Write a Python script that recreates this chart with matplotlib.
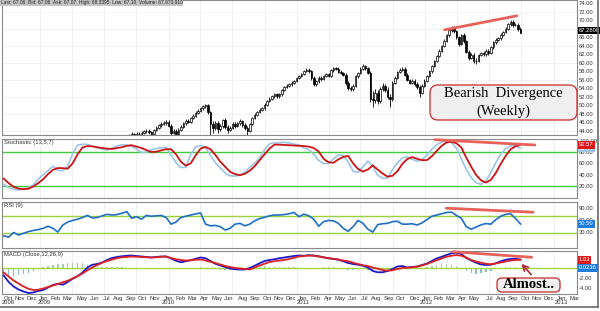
import matplotlib
matplotlib.use('Agg')
import matplotlib.pyplot as plt
import matplotlib.dates as mdates
from matplotlib.patches import FancyBboxPatch
from matplotlib.lines import Line2D
import numpy as np
import pandas as pd

# weekly candles (earlier weeks sit below 44 and are not visible)
candle_start = '2009-09-04'
opens = [42.4, 42.0, 42.8, 43.3, 42.9, 43.4, 43.2, 43.6, 43.9, 44.1,
         43.7, 43.4, 44.2, 44.8, 45.3, 45.7, 45.9, 46.2, 45.2, 43.6,
         43.9, 43.4, 44.3, 45.0, 45.8, 46.4, 46.2, 47.0, 47.6, 48.3,
         48.7, 49.3, 49.8, 50.1, 48.4, 45.6, 44.6, 45.8, 44.4, 45.2,
         46.5, 45.0, 44.2, 44.8, 45.6, 45.2, 45.9, 46.3, 45.4, 44.7,
         44.0, 45.6, 47.0, 47.8, 48.5, 48.9, 49.3, 50.2, 51.0, 51.6,
         52.1, 52.7, 52.2, 52.6, 53.6, 54.3, 54.6, 54.9, 55.3, 55.7,
         56.4, 56.9, 57.4, 58.1, 58.4, 58.0, 56.4, 55.0, 55.6, 56.5,
         56.2, 56.9, 57.3, 57.0, 58.2, 58.8, 58.6, 57.9, 57.6, 57.2,
         55.3, 54.0, 53.8, 54.6, 56.8, 57.6, 58.6, 59.2, 58.8, 57.7,
         51.6, 51.2, 53.0, 51.0, 53.8, 54.6, 53.6, 52.0, 51.4, 55.2,
         56.5, 57.8, 58.3, 58.6, 57.2, 56.0, 55.3, 55.8, 55.0, 54.3,
         53.0, 54.6, 55.8, 56.9, 58.0, 59.2, 60.4, 61.6, 62.8, 63.9,
         65.2, 66.4, 67.6, 68.1, 67.4, 66.0, 64.4, 66.5, 65.0, 62.6,
         61.2, 61.9, 60.5, 60.4, 61.8, 62.3, 62.0, 62.8, 62.3, 63.6,
         64.8, 65.4, 65.7, 66.6, 67.2, 68.0, 69.0, 69.6, 68.8, 68.9,
         67.9]
highs = [42.8, 43.2, 43.7, 43.6, 43.8, 43.8, 44.0, 44.3, 44.5, 44.4,
         44.1, 44.5, 45.2, 45.7, 46.0, 46.3, 46.6, 46.6, 45.6, 44.5,
         44.4, 44.6, 45.3, 46.1, 46.8, 46.8, 47.3, 47.9, 48.6, 49.1,
         49.6, 50.1, 50.4, 50.4, 48.7, 46.4, 46.3, 46.3, 45.7, 46.9,
         47.0, 45.4, 45.2, 46.0, 46.0, 46.2, 46.7, 46.6, 45.8, 45.1,
         45.9, 47.3, 48.1, 48.8, 49.3, 49.7, 50.5, 51.3, 51.9, 52.4,
         53.0, 53.0, 52.9, 53.9, 54.6, 54.9, 55.2, 55.6, 56.0, 56.7,
         57.2, 57.7, 58.4, 58.8, 58.7, 58.3, 56.8, 55.9, 56.8, 56.9,
         57.2, 57.6, 57.6, 58.5, 59.1, 59.1, 58.9, 58.2, 57.9, 57.5,
         55.6, 54.6, 55.0, 57.1, 57.9, 58.9, 59.6, 59.5, 59.1, 58.0,
         53.4, 53.8, 53.6, 54.3, 55.2, 55.0, 54.2, 52.6, 55.6, 56.8,
         58.1, 58.7, 59.0, 58.9, 57.5, 56.3, 56.2, 56.2, 55.4, 54.7,
         54.9, 56.1, 57.2, 58.3, 59.5, 60.7, 61.9, 63.1, 64.2, 65.5,
         66.7, 67.9, 68.6, 68.5, 67.7, 66.3, 66.8, 67.0, 65.3, 62.9,
         62.3, 62.2, 61.0, 62.1, 62.6, 62.8, 63.2, 63.1, 63.9, 65.1,
         65.7, 66.0, 66.9, 67.5, 68.3, 69.3, 70.0, 69.9, 69.3, 69.2,
         68.34]
lows = [41.6, 41.6, 42.4, 42.5, 42.5, 42.8, 42.8, 43.2, 43.5, 43.3,
        42.9, 43.1, 43.9, 44.4, 45.0, 45.3, 45.5, 44.9, 43.1, 43.2,
        42.9, 43.1, 44.0, 44.7, 45.5, 45.8, 45.9, 46.7, 47.3, 48.0,
        48.4, 49.0, 49.5, 48.0, 43.0, 43.6, 44.2, 43.6, 43.9, 44.8,
        44.5, 43.6, 43.9, 44.4, 44.8, 44.9, 45.5, 45.0, 44.2, 43.0,
        43.7, 45.3, 46.7, 47.5, 48.2, 48.6, 49.0, 49.9, 50.7, 51.3,
        51.8, 51.8, 51.8, 52.3, 53.3, 54.0, 54.3, 54.6, 55.0, 55.4,
        56.1, 56.6, 57.1, 57.8, 57.6, 56.0, 54.6, 54.6, 55.3, 55.8,
        55.9, 56.6, 56.7, 56.7, 57.9, 58.3, 57.6, 57.3, 56.8, 54.8,
        53.5, 53.3, 53.4, 54.3, 56.5, 57.3, 58.3, 58.4, 57.3, 50.8,
        49.6, 50.6, 50.3, 50.6, 53.3, 53.2, 51.5, 49.6, 51.1, 54.9,
        56.2, 57.5, 58.0, 56.8, 55.6, 54.9, 55.0, 54.6, 53.9, 52.0,
        52.6, 54.3, 55.5, 56.6, 57.7, 58.9, 60.1, 61.3, 62.5, 63.6,
        64.9, 66.1, 67.3, 67.0, 65.6, 63.9, 64.1, 64.7, 62.2, 60.6,
        60.8, 60.0, 59.8, 60.1, 61.5, 61.6, 61.6, 61.9, 62.0, 63.3,
        64.5, 65.1, 65.4, 66.3, 66.9, 67.7, 68.7, 68.4, 68.5, 67.5,
        66.9]
closes = [42.0, 42.8, 43.3, 42.9, 43.4, 43.2, 43.6, 43.9, 44.1, 43.7,
          43.4, 44.2, 44.8, 45.3, 45.7, 45.9, 46.2, 45.2, 43.6, 43.9,
          43.4, 44.3, 45.0, 45.8, 46.4, 46.2, 47.0, 47.6, 48.3, 48.7,
          49.3, 49.8, 50.1, 48.4, 45.6, 44.6, 45.8, 44.4, 45.2, 46.5,
          45.0, 44.2, 44.8, 45.6, 45.2, 45.9, 46.3, 45.4, 44.7, 44.0,
          45.6, 47.0, 47.8, 48.5, 48.9, 49.3, 50.2, 51.0, 51.6, 52.1,
          52.7, 52.2, 52.6, 53.6, 54.3, 54.6, 54.9, 55.3, 55.7, 56.4,
          56.9, 57.4, 58.1, 58.4, 58.0, 56.4, 55.0, 55.6, 56.5, 56.2,
          56.9, 57.3, 57.0, 58.2, 58.8, 58.6, 57.9, 57.6, 57.2, 55.3,
          54.0, 53.8, 54.6, 56.8, 57.6, 58.6, 59.2, 58.8, 57.7, 51.6,
          51.2, 53.0, 51.0, 53.8, 54.6, 53.6, 52.0, 51.4, 55.2, 56.5,
          57.8, 58.3, 58.6, 57.2, 56.0, 55.3, 55.8, 55.0, 54.3, 53.0,
          54.6, 55.8, 56.9, 58.0, 59.2, 60.4, 61.6, 62.8, 63.9, 65.2,
          66.4, 67.6, 68.1, 67.4, 66.0, 64.4, 66.5, 65.0, 62.6, 61.2,
          61.9, 60.5, 60.4, 61.8, 62.3, 62.0, 62.8, 62.3, 63.6, 64.8,
          65.4, 65.7, 66.6, 67.2, 68.0, 69.0, 69.6, 68.8, 68.9, 67.9,
          67.06]

# indicators, read every two weeks
ind_start = '2008-09-19'
stoch_k = [23, 17.5, 14.5, 13, 14, 17, 22, 32, 40, 47,
           55, 48, 47, 55, 77, 92, 93.5, 93.5, 90.5, 87.5,
           85.5, 83.6, 87, 90.5, 93, 92, 90, 85, 79, 80,
           84, 86, 87.7, 88, 75, 61, 52.5, 53, 76, 89,
           91.5, 88, 74, 61, 52, 43, 38, 37.5, 39, 44.5,
           53, 60, 70, 84, 94.5, 96, 96.5, 97, 96, 94,
           92.5, 87, 84, 76, 65, 59.5, 60, 68, 74.7, 74,
           62, 46, 44, 54, 64, 55, 39, 33.5, 34.5, 49,
           61, 69.5, 71.5, 67, 64, 66.5, 74.5, 85, 93, 97.5,
           99.3, 96.5, 87, 68, 49, 35, 26, 22.6, 29, 44,
           61, 76, 86, 91, 91.5, 86.4]
stoch_d = [33, 25, 18.5, 15.5, 14.5, 15, 19, 25, 32, 41,
           48.5, 51.7, 51.5, 50.5, 60, 76, 88, 90.5, 90, 88.5,
           87, 86, 85.5, 87, 88.5, 91, 92, 89.5, 87, 83.5,
           80, 80.5, 83, 85, 85, 76, 63, 56, 60, 74,
           86, 89, 85, 75, 63, 54, 45, 41, 39, 41.5,
           47, 55, 65.5, 76, 86, 93, 93, 92.5, 92, 91.5,
           91, 90.5, 89.5, 87, 81, 68, 62, 61, 67, 71.5,
           73, 60, 50, 45.5, 49, 56.5, 49, 42, 36.5, 38,
           46, 59, 67.5, 71, 68, 65.7, 65.7, 72.5, 82, 91,
           97, 98, 95.5, 88, 70, 54, 39.5, 30, 26, 31,
           43, 59, 73, 85, 90, 92.57]
rsi = [22, 19, 30, 24, 28, 32, 35, 37, 40, 45,
       40, 31, 48, 55, 59, 62, 66, 71, 65, 66,
       70, 73.6, 72, 73, 76, 80, 64, 68, 62, 71,
       69, 70, 71, 66, 50, 55, 66, 69, 72, 74.5,
       77, 50, 46, 47, 44, 36, 40, 50, 52, 46,
       50, 58, 63.5, 66.5, 70, 72, 72, 73, 75, 78,
       68, 74, 70, 62, 45, 56, 59, 58, 52, 40,
       33, 44, 59, 52, 38, 31, 49, 51, 52, 56,
       57, 50, 50, 51, 48, 53, 61, 69, 72, 75,
       78, 79, 71, 64, 44, 38, 43, 48.5, 51.5, 50,
       61, 69, 73.5, 75, 64, 50.5]
macd = [-1.5, -2.8, -3.7, -4.3, -4.7, -5.0, -4.9, -4.6, -4.4, -3.9,
        -3.4, -3.15, -3.35, -2.8, -2.15, -1.65, -0.9, 0.1, 0.65, 0.8,
        1.1, 1.6, 2.0, 2.2, 2.35, 2.45, 2.5, 2.4, 2.3, 2.2,
        2.1, 2.2, 2.3, 2.3, 1.9, 1.45, 1.15, 1.35, 1.55, 1.85,
        2.1, 1.95, 1.4, 0.85, 0.5, 0.2, -0.1, -0.25, -0.3, -0.3,
        0.0, 0.45, 0.95, 1.4, 1.6, 1.75, 1.95, 2.1, 2.25, 2.4,
        2.5, 2.45, 2.55, 2.5, 2.35, 2.15, 1.95, 1.8, 1.65, 1.35,
        1.0, 0.8, 0.65, 0.45, 0.1, -0.6, -0.85, -0.85, -0.6, -0.2,
        0.3, 0.4, 0.1, 0.2, 0.3, 0.6, 0.9, 1.4, 1.9, 2.25,
        2.6, 2.95, 3.05, 2.8, 2.0, 1.5, 1.05, 0.7, 0.6, 0.65,
        0.95, 1.35, 1.65, 1.8, 1.85, 1.7]
signal = [-0.9, -1.7, -2.5, -3.1, -3.7, -4.15, -4.4, -4.35, -4.1, -3.8,
          -3.5, -3.2, -2.85, -2.55, -2.1, -1.65, -1.1, -0.45, 0.1, 0.6,
          1.05, 1.4, 1.7, 1.95, 2.15, 2.2, 2.3, 2.25, 2.2, 2.15,
          2.1, 2.15, 2.25, 2.3, 2.0, 1.75, 1.6, 1.5, 1.55, 1.65,
          1.7, 1.5, 1.25, 1.0, 0.7, 0.4, 0.2, 0.0, -0.1, -0.2,
          -0.3, 0.1, 0.5, 0.85, 1.2, 1.35, 1.5, 1.6, 1.8, 2.05,
          2.3, 2.4, 2.5, 2.45, 2.3, 2.1, 1.95, 1.85, 1.7, 1.5,
          1.35, 1.05, 0.8, 0.55, 0.4, 0.1, -0.15, -0.4, -0.55, -0.45,
          -0.2, 0.0, 0.05, 0.15, 0.25, 0.5, 0.8, 1.2, 1.55, 1.9,
          2.25, 2.45, 2.6, 2.45, 2.1, 1.6, 1.3, 1.05, 0.85, 0.75,
          0.9, 1.1, 1.3, 1.5, 1.6, 1.63]
hist = [-1.4, -1.6, -1.6, -1.4, -1.2, -0.9, -0.6, -0.2, 0.2, 0.5,
        0.7, 0.8, 0.9, 1.0, 1.1, 1.1, 1.0, 0.7, 0.5, 0.3,
        0.3, 0.3, 0.3, 0.2, 0.15, 0.1, 0.05, 0.05, 0.0, 0.0,
        0.0, 0.0, 0.0, 0.0, -0.1, -0.2, -0.2, -0.1, 0.0, 0.1,
        0.15, 0.1, -0.1, -0.25, -0.3, -0.3, -0.3, -0.25, -0.1, -0.05,
        0.1, 0.2, 0.3, 0.35, 0.3, 0.3, 0.3, 0.3, 0.25, 0.15,
        0.1, 0.05, 0.0, 0.05, 0.1, 0.15, 0.2, 0.15, 0.0, -0.15,
        -0.3, -0.3, -0.25, -0.2, -0.3, -0.4, -0.45, -0.4, -0.3, -0.15,
        0.05, 0.1, 0.1, 0.05, 0.05, 0.1, 0.3, 0.5, 0.65, 0.75,
        0.8, 0.7, 0.5, 0.1, -0.5, -0.9, -1.1, -1.0, -0.8, -0.5,
        -0.1, 0.1, 0.2, 0.2, 0.15, 0.1]

month_ticks = ['2008-10-01', '2008-11-01', '2008-12-01', '2009-01-01', '2009-02-01', '2009-03-01',
               '2009-05-01', '2009-06-01', '2009-07-01', '2009-08-01', '2009-09-01', '2009-10-01',
               '2009-11-01', '2010-01-01', '2010-02-01', '2010-03-01', '2010-04-01', '2010-05-01',
               '2010-06-01', '2010-08-01', '2010-09-01', '2010-10-01', '2010-11-01', '2010-12-01',
               '2011-01-01', '2011-02-01', '2011-04-01', '2011-05-01', '2011-06-01', '2011-07-01',
               '2011-08-01', '2011-09-01', '2011-10-01', '2011-12-01', '2012-01-01', '2012-02-01',
               '2012-03-01', '2012-04-01', '2012-05-01', '2012-07-01', '2012-08-01', '2012-09-01',
               '2012-10-01', '2012-11-01', '2012-12-01', '2013-01-01', '2013-03-01']
month_labels = ['Oct\n2008', 'Nov', 'Dec', 'Jan\n2009', 'Feb', 'Mar', 'May', 'Jun', 'Jul', 'Aug', 'Sep',
                'Oct', 'Nov', 'Jan\n2010', 'Feb', 'Mar', 'Apr', 'May', 'Jun', 'Aug', 'Sep', 'Oct', 'Nov',
                'Dec', 'Jan\n2011', 'Feb', 'Apr', 'May', 'Jun', 'Jul', 'Aug', 'Sep', 'Oct', 'Dec',
                'Jan\n2012', 'Feb', 'Mar', 'Apr', 'May', 'Jul', 'Aug', 'Sep', 'Oct', 'Nov', 'Dec',
                'Jan\n2013', 'Mar']

# divergence lines drawn on the chart: (start date, end date), (start value, end value)
price_div = (['2012-02-25', '2012-09-18'], [67.7, 71.0])
stoch_div = (['2012-01-29', '2012-11-08'], [101.8, 92.4])
rsi_div = (['2012-03-01', '2012-11-03'], [88.3, 78.7])
macd_div = (['2012-03-20', '2012-10-30'], [3.26, 2.14])

plt.rcParams['font.family'] = ['Liberation Sans', 'DejaVu Sans']

W, H = 600, 311
fig = plt.figure(figsize=(W / 100, H / 100), dpi=100)
x_left = mdates.date2num(pd.Timestamp('2008-09-14'))
x_right = mdates.date2num(pd.Timestamp('2013-03-08'))
days_per_px = (x_right - x_left) / 575.0
quarters = mdates.date2num(pd.date_range('2009-01-01', '2013-01-01', freq='QS'))
FS = 4.2


def panel(top, bottom, ylo, yhi):
    ax = fig.add_axes([2 / W, 1 - bottom / H, 575 / W, (bottom - top) / H])
    for s in ax.spines.values():
        s.set_color('#8a8a8a')
        s.set_linewidth(0.8)
    ax.set_xlim(x_left, x_right)
    ax.set_ylim(ylo, yhi)
    ax.tick_params(axis='both', length=0, labelsize=FS, labelcolor='#333333', pad=1.5)
    ax.tick_params(axis='y', left=False, labelleft=False, right=True, labelright=True)
    ax.set_xticks([])
    for q in quarters:
        ax.axvline(q, color='#ececec', lw=0.6, zorder=0)
    return ax


def value_box(ax, val, txt, fc, tc='white'):
    ax.text(1.003, val, txt, transform=ax.get_yaxis_transform(), fontsize=FS, color=tc,
            va='center', ha='left', clip_on=False, zorder=6,
            bbox=dict(boxstyle='square,pad=0.2', fc=fc, ec='none'))


def div_line(ax, d):
    ax.plot(mdates.date2num(pd.to_datetime(d[0])), d[1], color='#e8625a', lw=2.0,
            solid_capstyle='round', zorder=5, clip_on=False)


ax_p = panel(0, 135, 43.06, 74.7)
ax_s = panel(139, 198, -1.2, 103)
ax_r = panel(202, 248, -7.2, 103.2)
ax_m = panel(251, 294, -5.2, 3.4)

# price panel
cd = mdates.date2num(pd.date_range(candle_start, periods=len(closes), freq='7D'))
o, h, l, c = map(np.array, (opens, highs, lows, closes))
up = c >= o
ax_p.vlines(cd, l, h, color='black', lw=0.6, zorder=2)
ax_p.bar(cd[up], np.maximum(c[up] - o[up], 0.05), bottom=o[up], width=4.5,
         facecolor='white', edgecolor='black', lw=0.5, zorder=3)
ax_p.bar(cd[~up], o[~up] - c[~up], bottom=c[~up], width=4.5,
         facecolor='black', edgecolor='black', lw=0.5, zorder=3)
pticks = np.arange(44, 75, 2)
ax_p.set_yticks(pticks)
# the 68 label sits under the last-price box
ax_p.set_yticklabels(['' if v == 68 else '%.2f' % v for v in pticks])
for v in np.arange(44, 75, 4):
    ax_p.axhline(v, color='#f0f0f0', lw=0.6, zorder=0)
div_line(ax_p, price_div)
value_box(ax_p, 67.5, '67.2800', 'black')

# stochastic
ind = mdates.date2num(pd.date_range(ind_start, periods=len(rsi), freq='14D'))
ax_s.axhline(20, color='#3ccc3c', lw=1.0, zorder=1)
ax_s.axhline(80, color='#3ccc3c', lw=1.0, zorder=1)
ax_s.plot(ind, stoch_k, color='#9cc4e4', lw=1.2, zorder=2)
ax_s.plot(ind, stoch_d, color='#cc1414', lw=1.3, zorder=3)
ax_s.set_yticks([20, 40, 60, 80, 100])
ax_s.set_yticklabels(['20.00', '40.00', '60.00', '80.00', '100.00'])
div_line(ax_s, stoch_div)
value_box(ax_s, 86.4, '86.44', '#9cc4e4')
value_box(ax_s, 92.57, '92.57', '#e01818')
ax_s.text(0.003, 0.985, 'Stochastic (13,5,7)', transform=ax_s.transAxes, fontsize=FS,
          va='top', ha='left', color='#333333')

# rsi
ax_r.axhline(30, color='#9bd23c', lw=1.0, zorder=1)
ax_r.axhline(70, color='#9bd23c', lw=1.0, zorder=1)
ax_r.plot(ind, rsi, color='#1f6fc8', lw=1.2, zorder=2)
ax_r.set_yticks([30, 60, 90])
ax_r.set_yticklabels(['30.00', '60.00', '90.00'])
div_line(ax_r, rsi_div)
value_box(ax_r, 50.5, '50.50', '#1e7be0')
ax_r.text(0.003, 0.985, 'RSI (9)', transform=ax_r.transAxes, fontsize=FS,
          va='top', ha='left', color='#333333')

# macd
hv = np.array(hist)
ax_m.bar(ind, hv, width=4.0, color=np.where(hv >= 0, '#a9cba9', '#86b8d6'), lw=0, zorder=1)
ax_m.axhline(0, color='#a0d83c', lw=1.0, zorder=2)
ax_m.plot(ind, macd, color='#1a1acc', lw=1.3, zorder=3)
ax_m.plot(ind, signal, color='#dd2020', lw=1.3, zorder=4)
ax_m.set_yticks([-4, -2])
ax_m.set_yticklabels(['-4.00', '-2.00'])
div_line(ax_m, macd_div)
value_box(ax_m, 1.63, '1.63', '#e01818')
value_box(ax_m, 0.0236, '0.0236', '#1e7be0')
ax_m.text(0.003, 0.985, 'MACD (Close,12,26,9)', transform=ax_m.transAxes, fontsize=FS,
          va='top', ha='left', color='#333333')

# month labels: nudged right so neighbours keep ~12 px apart, like the charting tool does
tick_pos = []
for t in mdates.date2num(pd.to_datetime(month_ticks)):
    if tick_pos:
        t = max(t, tick_pos[-1] + 12 * days_per_px)
    tick_pos.append(t)
ax_m.set_xticks(tick_pos)
ax_m.set_xticklabels(month_labels, fontsize=FS, linespacing=0.85)
ax_m.tick_params(axis='x', pad=1.5)
ax_m.annotate('', xy=(mdates.date2num(pd.Timestamp('2012-09-26')), 1.26),
              xytext=(mdates.date2num(pd.Timestamp('2012-11-03')), -1.74),
              arrowprops=dict(arrowstyle='->', color='#b02828', lw=1.2),
              annotation_clip=False, zorder=7)

# callout boxes (figure inches)
inch = fig.dpi_scale_trans
fig.add_artist(FancyBboxPatch((4.30, 1.91), 1.47, 0.35, boxstyle='round,pad=0,rounding_size=0.08',
                              transform=inch, fc='#efefef', ec='#cc3c3c', lw=1.0, zorder=10))
fig.text(5.035, 2.17, 'Bearish  Divergence', transform=inch, fontsize=10.5,
         family='Liberation Serif', ha='center', va='center', zorder=11)
fig.text(5.035, 2.00, '(Weekly)', transform=inch, fontsize=10.5,
         family='Liberation Serif', ha='center', va='center', zorder=11)
fig.add_artist(FancyBboxPatch((4.97, 0.19), 0.63, 0.14, boxstyle='round,pad=0,rounding_size=0.05',
                              transform=inch, fc='#efefef', ec='#cc3c3c', lw=1.0, zorder=10))
fig.text(5.285, 0.26, 'Almost..', transform=inch, fontsize=10.5, fontweight='bold',
         family='Liberation Serif', ha='center', va='center', zorder=11)

# header and frame
fig.text(1 / W, 1 - 0.3 / H, 'Last: 67.06  Bid: 67.06  Ask: 67.07  High: 68.3395  Low: 67.10  Volume: 67,973,910',
         fontsize=3.5, ha='left', va='top', color='#222222',
         bbox=dict(fc='#c4c4c4', ec='none', pad=0.4))
fig.add_artist(Line2D([597.5 / W, 597.5 / W], [1 - 307 / H, 1], transform=fig.transFigure,
                      color='#6a6a6a', lw=1.2))
fig.add_artist(Line2D([0, 597.5 / W], [1 - 307 / H, 1 - 307 / H], transform=fig.transFigure,
                      color='#6a6a6a', lw=1.2))

fig.savefig('out.png', dpi=100)
